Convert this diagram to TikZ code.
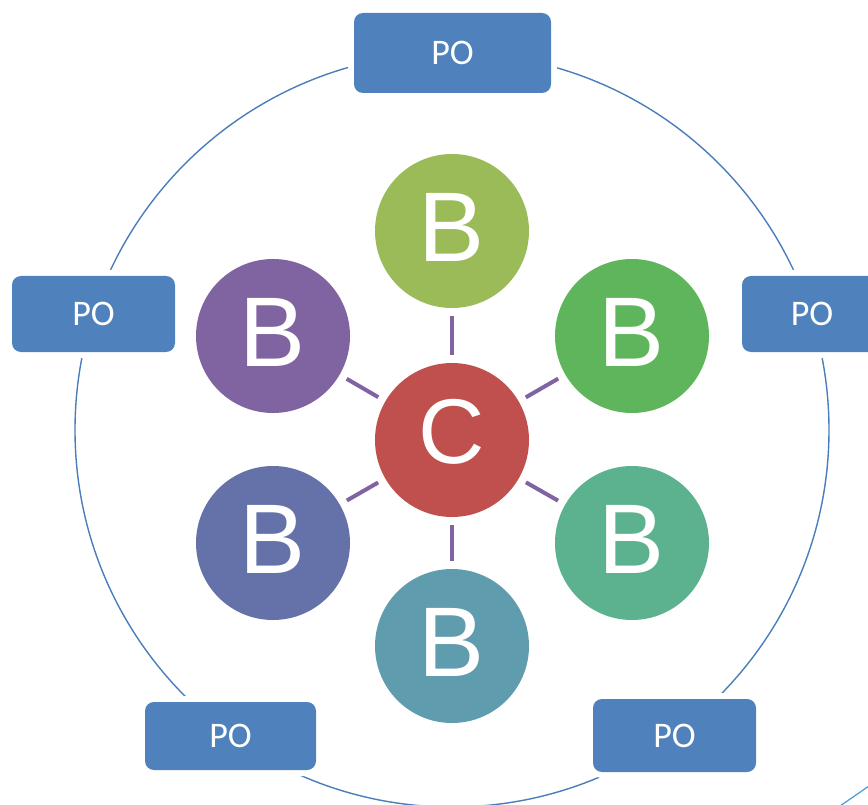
\documentclass[tikz,border=0pt]{standalone}
\usepackage{fontspec}
\setmainfont{Carlito}
\newfontfamily\ballfont{Liberation Sans}
\definecolor{poblue}{HTML}{4F81BD}
\definecolor{ringblue}{HTML}{4A7EBB}
\definecolor{cred}{HTML}{C0504D}
\definecolor{bolive}{HTML}{9BBB59}
\definecolor{bgreen}{HTML}{5FB55B}
\definecolor{bteal}{HTML}{5CB18F}
\definecolor{bcyan}{HTML}{5F9CAE}
\definecolor{bindigo}{HTML}{6571A9}
\definecolor{bpurple}{HTML}{8064A2}
\definecolor{linkpurple}{HTML}{8064A2}
\definecolor{cornerblue}{HTML}{4A9BD8}
\tikzset{
  pobox/.style={rectangle, rounded corners=9pt, fill=poblue, text=white,
    font=\fontsize{36}{36}\selectfont, inner sep=0pt,
    preaction={draw=white, line width=12pt}},
  bball/.style={circle, minimum size=154pt, inner sep=0pt},
  btext/.style={inner sep=0pt, text=white, font=\ballfont\fontsize{99}{99}\selectfont},
  ctext/.style={inner sep=0pt, text=white, font=\ballfont\fontsize{92}{92}\selectfont},
  link/.style={draw=linkpurple, line width=4pt, shorten <=8pt, shorten >=8pt},
  ring/.style={draw=ringblue, line width=1.4pt}
}
\begin{document}
\begin{tikzpicture}[x=1pt,y=-1pt]
\useasboundingbox (0,0) rectangle (868,805);
\fill[white] (0,0) rectangle (868,805);
% ring
\draw[ring] (452,430) circle[radius=377];
% PO boxes
\node[pobox, minimum width=197pt, minimum height=80pt] (p1) at (452.5,53) {PO};
\node[pobox, minimum width=163pt, minimum height=76pt] (p2) at (93.5,314) {PO};
\node[pobox, minimum width=140pt, minimum height=76pt] (p3) at (812,314) {PO};
\node[pobox, minimum width=171pt, minimum height=68pt] (p4) at (230.5,736) {PO};
\node[pobox, minimum width=163pt, minimum height=73pt] (p5) at (674.5,735.5) {PO};
% balls
\node[bball, fill=cred] (c) at (452,440) {};
\node[bball, fill=bolive] (b1) at (452,231) {};
\node[bball, fill=bgreen] (b2) at (632,336) {};
\node[bball, fill=bteal] (b3) at (632,543) {};
\node[bball, fill=bcyan] (b4) at (452,646) {};
\node[bball, fill=bindigo] (b5) at (273,543) {};
\node[bball, fill=bpurple] (b6) at (273,336) {};
% letters
\node[ctext] (ct) at ([yshift=8pt]c.center) {C};
\foreach \b in {b1,b2,b3,b4,b5,b6}{\node[btext] (\b t) at ([yshift=3.5pt]\b.center) {B};}
% links
\foreach \b in {b1,b2,b3,b4,b5,b6}{\draw[link] (c) -- (\b);}
% corner stroke
\coordinate (k1) at (840,806);
\coordinate (k2) at (869,786);
\draw[cornerblue, line width=1.2pt] (k1) -- (k2);
\end{tikzpicture}
\end{document}
